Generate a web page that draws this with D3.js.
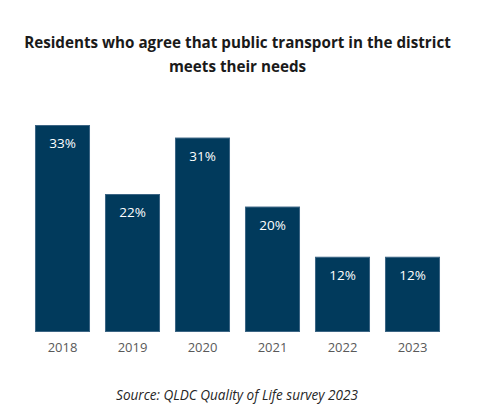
<!DOCTYPE html>
<html><head><meta charset="utf-8">
<script src="https://cdn.jsdelivr.net/npm/d3@7/dist/d3.min.js"></script>
<style>body{margin:0;background:#fff}svg{display:block}</style>
</head><body>
<svg id="c" width="492" height="414"></svg>
<script>
const years = ["2018","2019","2020","2021","2022","2023"];
const values = [33, 22, 31, 20, 12, 12];
const titleLines = ["Residents who agree that public transport in the district", "meets their needs"];
const sourceText = "Source: QLDC Quality of Life survey 2023";

const svg = d3.select("#c");
const font = "'Open Sans', 'Liberation Sans', sans-serif";

const x = d3.scaleBand().domain(years).range([27.5, 447.5]).paddingInner(0.214).paddingOuter(0.107);
const y = d3.scaleLinear().domain([0, 33]).range([332, 125]);

// title
const t = svg.append("g");
const tl = t.selectAll("text").data(titleLines).join("text")
  .attr("x", 237.5).attr("y", (d,i)=>48 + i*24)
  .attr("text-anchor","middle").attr("font-family", font).attr("font-weight","bold")
  .attr("font-size", 16).attr("fill","#1a1a1a").text(d=>d);
const w0 = tl.node().getComputedTextLength();
tl.attr("font-size", 16*427/w0);

svg.append("g").selectAll("rect").data(values).join("rect")
  .attr("x",(d,i)=>x(years[i])+0.5).attr("y",d=>y(d)+0.5)
  .attr("width",x.bandwidth()-1).attr("height",d=>y(0)-y(d)-1)
  .attr("fill","#013a5c").attr("stroke","#3c6584").attr("stroke-width",1);

svg.append("g").selectAll("text").data(values).join("text")
  .attr("x",(d,i)=>x(years[i])+x.bandwidth()/2).attr("y",d=>y(d)+23)
  .attr("text-anchor","middle").attr("font-family",font).attr("font-size",13.5)
  .attr("fill","#fff").text(d=>d+"%");

const ax = svg.append("g").attr("transform","translate(0,332)")
  .call(d3.axisBottom(x).tickSize(0).tickPadding(11));
ax.select(".domain").remove();
ax.selectAll("text").attr("font-family",font).attr("font-size",13).attr("fill","#595959");

const s = svg.append("text").attr("x",237).attr("y",400).attr("text-anchor","middle")
  .attr("font-family",font).attr("font-style","italic").attr("font-size",13)
  .attr("fill","#262626").text(sourceText);
const sw = s.node().getComputedTextLength();
s.attr("font-size", 13*242/sw);
</script>
</body></html>
